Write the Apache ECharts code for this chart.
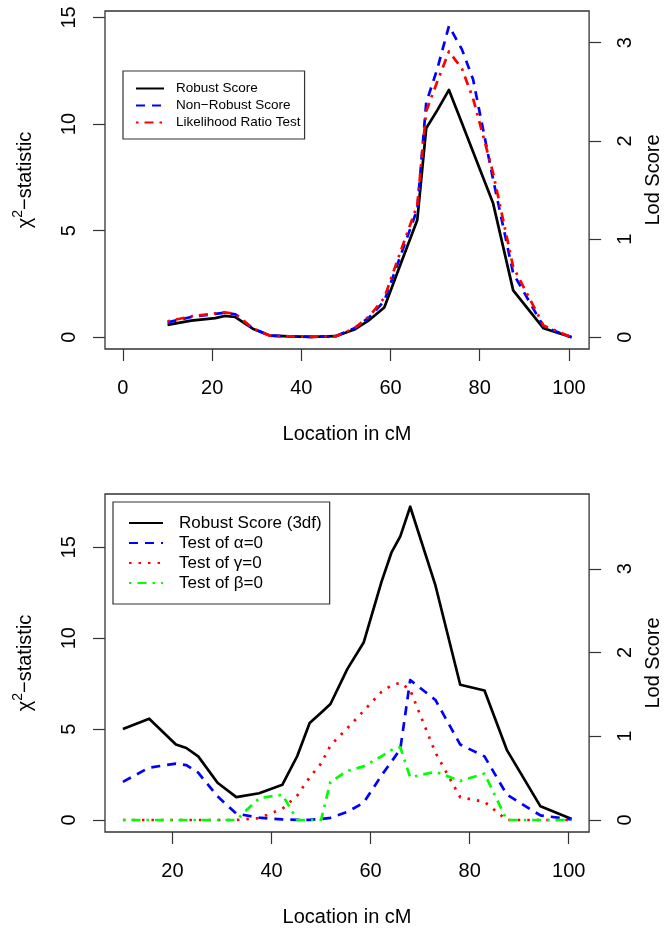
<!DOCTYPE html>
<html>
<head>
<meta charset="utf-8">
<script src="https://cdn.jsdelivr.net/npm/echarts@6/dist/echarts.min.js"></script>
<style>
html,body{margin:0;padding:0;background:#fff;}
#chart{width:671px;height:935px;}
</style>
</head>
<body>
<div id="chart"></div>
<script>
// ---------- data: top panel ----------
const topX = [10, 15.3, 20.7, 22.8, 25.2, 29.1, 32.9, 37.5, 42.2, 47.7, 51.9, 55.3, 58.6, 62.2, 66, 68, 70.5, 73.1, 76, 78.5, 83, 87.5, 94.3, 100.6];
const topRobust    = [0.58, 0.78, 0.9, 1.0, 0.95, 0.4, 0.08, 0.04, 0.02, 0.05, 0.36, 0.82, 1.4, 3.4, 5.5, 9.8, 10.65, 11.6, 10.05, 8.7, 6.28, 2.2, 0.42, 0];
const topNonRobust = [0.7, 0.95, 1.1, 1.15, 1.08, 0.42, 0.08, 0.04, 0.02, 0.05, 0.42, 0.95, 1.7, 3.8, 6.0, 11.0, 12.6, 14.6, 13.5, 12.1, 7.4, 3.0, 0.5, 0];
const topLRT       = [0.75, 0.98, 1.12, 1.17, 1.1, 0.42, 0.08, 0.04, 0.02, 0.05, 0.42, 1.0, 1.85, 4.0, 6.2, 10.6, 12.0, 13.4, 12.6, 11.2, 7.7, 3.3, 0.55, 0];
const topNames = ['Robust Score', 'Non\u2212Robust Score', 'Likelihood Ratio Test'];

// ---------- data: bottom panel ----------
const botX = [10, 15.3, 20.7, 22.8, 25.2, 29.1, 32.9, 37.5, 42.2, 45.2, 47.7, 50, 51.9, 55.3, 58.6, 62.2, 64.2, 66, 68, 73.1, 78.1, 83, 87.5, 94.3, 100.6];
const botRobust = [5.0, 5.57, 4.15, 3.96, 3.5, 2.05, 1.26, 1.47, 1.94, 3.52, 5.33, 5.9, 6.38, 8.3, 9.76, 13.1, 14.7, 15.6, 17.23, 12.9, 7.44, 7.12, 3.86, 0.75, 0.05];
const botAlpha  = [2.1, 2.88, 3.1, 3.02, 2.6, 1.3, 0.35, 0.13, 0.03, 0.01, 0.01, 0.05, 0.12, 0.45, 0.95, 2.45, 3.2, 3.9, 7.7, 6.6, 4.15, 3.5, 1.4, 0.25, 0.03];
const botGamma  = [0, 0, 0, 0, 0, 0, 0, 0.1, 0.62, 1.35, 2.35, 3.1, 4.1, 5.05, 6.0, 7.05, 7.4, 7.55, 7.15, 3.7, 1.25, 1.0, 0, 0, 0];
const botBeta   = [0, 0, 0, 0, 0, 0, 0, 1.2, 1.39, 0, 0, 0, 2.1, 2.7, 2.95, 3.5, 3.85, 4.0, 2.35, 2.65, 2.15, 2.55, 0, 0, 0];
const botNames = ['Robust Score (3df)', 'Test of \u03b1=0', 'Test of \u03b3=0', 'Test of \u03b2=0'];

// ---------- tick labels ----------
const topXTicks = [0, 20, 40, 60, 80, 100];
const botXTicks = [20, 40, 60, 80, 100];
const topChiTicks = [0, 5, 10, 15];
const botChiTicks = [0, 5, 10, 15];
const lodTicks = [0, 1, 2, 3];

const LOD = 2 * Math.log(10);
const FONT = '"Liberation Sans", Arial, Helvetica, sans-serif';

const topRange = {xmin: -4.02, xmax: 104.52, ymin: -0.55, ymax: 15.3};
const botRange = {xmin: 6.38, xmax: 104.12, ymin: -0.66, ymax: 17.93};

function pairs(xs, ys){ return xs.map((x, i) => [x, ys[i]]); }

const axisColor = '#333';
function xAxisDef(grid, r, ticks){
  return {
    gridIndex: grid, type: 'value', min: r.xmin, max: r.xmax,
    axisLine: {show: false, onZero: false},
    axisTick: {show: true, customValues: ticks, length: 12, lineStyle: {color: axisColor, width: 1.2}},
    axisLabel: {customValues: ticks, fontSize: 20, fontFamily: FONT, color: '#000', margin: 29},
    splitLine: {show: false},
    name: 'Location in cM', nameLocation: 'middle', nameGap: 75,
    nameTextStyle: {fontSize: 20, fontFamily: FONT, color: '#000'}
  };
}
function yLeftDef(grid, r, ticks){
  return {
    gridIndex: grid, type: 'value', position: 'left', min: r.ymin, max: r.ymax,
    axisLine: {show: false, onZero: false},
    axisTick: {show: true, customValues: ticks, length: 12, lineStyle: {color: axisColor, width: 1.2}},
    axisLabel: {customValues: ticks, rotate: 90, fontSize: 20, fontFamily: FONT, color: '#000', margin: 26},
    splitLine: {show: false},
    name: '{c|\u03c7}{s|2}{c|\u2212statistic}', nameLocation: 'middle', nameGap: 66, nameRotate: 90,
    nameTextStyle: {fontSize: 20, fontFamily: FONT, color: '#000',
      rich: {c: {fontSize: 20, fontFamily: FONT, color: '#000'},
             s: {fontSize: 14, fontFamily: FONT, color: '#000', padding: [0, 0, 14, 0]}}}
  };
}
function yRightDef(grid, r, ticks){
  return {
    gridIndex: grid, type: 'value', position: 'right', min: r.ymin / LOD, max: r.ymax / LOD,
    axisLine: {show: false, onZero: false},
    axisTick: {show: true, customValues: ticks, length: 12, lineStyle: {color: axisColor, width: 1.2}},
    axisLabel: {customValues: ticks, rotate: 90, fontSize: 20, fontFamily: FONT, color: '#000', margin: 26},
    splitLine: {show: false},
    name: 'Lod Score', nameLocation: 'middle', nameGap: 48, nameRotate: 90,
    nameTextStyle: {fontSize: 20, fontFamily: FONT, color: '#000'}
  };
}
function line(name, xi, yi, xs, ys, color, type, width){
  return {
    name: name, type: 'line', xAxisIndex: xi, yAxisIndex: yi,
    data: pairs(xs, ys), symbol: 'none', showSymbol: false, animation: false,
    lineStyle: {color: color, width: width, type: type, cap: 'butt', join: 'round'},
    itemStyle: {color: color}
  };
}
const legendHiddenSymbol = {color: 'rgba(0,0,0,0)', borderWidth: 0, opacity: 0};

const chart = echarts.init(document.getElementById('chart'), null, {renderer: 'canvas'});
chart.setOption({
  backgroundColor: '#fff',
  animation: false,
  grid: [
    {left: 105, top: 11, width: 486, height: 338, show: true, borderColor: axisColor, borderWidth: 1.3, containLabel: false},
    {left: 105, top: 494, width: 486, height: 338, show: true, borderColor: axisColor, borderWidth: 1.3, containLabel: false}
  ],
  xAxis: [xAxisDef(0, topRange, topXTicks), xAxisDef(1, botRange, botXTicks)],
  yAxis: [yLeftDef(0, topRange, topChiTicks), yRightDef(0, topRange, lodTicks),
          yLeftDef(1, botRange, botChiTicks), yRightDef(1, botRange, lodTicks)],
  legend: [
    {data: topNames, orient: 'vertical', left: 123, top: 71, padding: [9, 4, 8, 12],
     borderColor: axisColor, borderWidth: 1.2, backgroundColor: '#fff',
     itemWidth: 28, itemHeight: 17, itemGap: 0, selectedMode: false,
     itemStyle: legendHiddenSymbol,
     textStyle: {fontSize: 13.5, fontFamily: FONT, color: '#000', lineHeight: 17, padding: [0, 0, 0, 7]}},
    {data: botNames, orient: 'vertical', left: 113, top: 502, padding: [11, 8, 11, 15],
     borderColor: axisColor, borderWidth: 1.2, backgroundColor: '#fff',
     itemWidth: 34, itemHeight: 20, itemGap: 0, selectedMode: false,
     itemStyle: legendHiddenSymbol,
     textStyle: {fontSize: 17, fontFamily: FONT, color: '#000', lineHeight: 20, padding: [0, 0, 0, 11]}}
  ],
  series: [
    line(topNames[0], 0, 0, topX, topRobust, '#000000', 'solid', 2.7),
    line(topNames[1], 0, 0, topX, topNonRobust, '#0000ff', [9, 7], 2.7),
    line(topNames[2], 0, 0, topX, topLRT, '#ff0000', [2.5, 6, 9, 6], 2.7),
    line(botNames[0], 1, 2, botX, botRobust, '#000000', 'solid', 2.7),
    line(botNames[1], 1, 2, botX, botAlpha, '#0000ff', [9, 7], 2.7),
    line(botNames[2], 1, 2, botX, botGamma, '#ff0000', [2.5, 7], 2.7),
    line(botNames[3], 1, 2, botX, botBeta, '#00ff00', [2.5, 6, 9, 6], 2.7)
  ]
});
</script>
</body>
</html>
